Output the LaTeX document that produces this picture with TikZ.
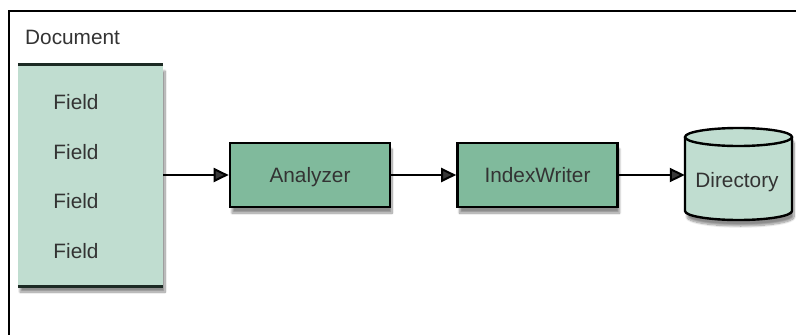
\documentclass[tikz,border=0pt]{standalone}
\usepackage{fontspec}
\setmainfont{Liberation Sans}
\usetikzlibrary{arrows.meta,shadows.blur}
\definecolor{light}{HTML}{C0DDD0}
\definecolor{mid}{HTML}{80BA9C}
\definecolor{txt}{HTML}{333333}
\definecolor{edge}{HTML}{1C2A24}
\tikzset{
  lbl/.style={font=\fontsize{20.8}{24}\selectfont, text=txt, text height=14.9pt, text depth=0pt, inner sep=0pt},
  shad/.style={blur shadow={shadow xshift=2pt, shadow yshift=-6pt, shadow blur steps=10, shadow opacity=45}},
  procbox/.style={lbl, draw=black, line width=2.6pt, fill=mid, minimum width=160pt, minimum height=64pt, shad},
  conn/.style={line width=2pt, -{Triangle[length=15pt,width=14pt]}},
}
\begin{document}
\begin{tikzpicture}[x=1pt,y=-1pt]
\useasboundingbox (0,0) rectangle (796,335);
% outer frame (top and left only visible)
\draw[line width=2.4pt] (9,336) -- (9,11) -- (797,11);
\node[lbl, anchor=west] (doclbl) at (25,37) {Document};
% document box
\node[fill=light, minimum width=145pt, minimum height=221pt, inner sep=0pt, shad] (doc) at (90.5,175.5) {};
\draw[edge, line width=3pt] (doc.north west) -- (doc.north east);
\draw[edge, line width=3pt] (doc.south west) -- (doc.south east);
\node[lbl] (f1) at (76,102) {Field};
\node[lbl] (f2) at (76,152) {Field};
\node[lbl] (f3) at (76,201) {Field};
\node[lbl] (f4) at (76,251) {Field};
% process boxes
\node[procbox] (an) at (310,175) {Analyzer};
\node[procbox] (iw) at (537.5,175) {IndexWriter};
% cylinder
\node[minimum width=107pt, minimum height=92pt, inner sep=0pt] (dir) at (738.5,175) {};
\fill[light, shad] (685,137) -- (685,211) arc[x radius=53.5, y radius=9, start angle=180, end angle=0]
  -- (792,137) arc[x radius=53.5, y radius=9, start angle=0, end angle=-180] -- cycle;
\draw[line width=2.4pt] (685,137) -- (685,211) arc[x radius=53.5, y radius=9, start angle=180, end angle=0] -- (792,137);
\draw[line width=2.4pt] (738.5,137) ellipse[x radius=53.5, y radius=9];
\node[lbl] (dirlbl) at (737,180) {Directory};
% connectors
\draw[conn] (doc.east |- an.west) -- (an.west);
\draw[conn] (an.east) -- (iw.west);
\draw[conn] (iw.east) -- (dir.west);
\end{tikzpicture}
\end{document}
